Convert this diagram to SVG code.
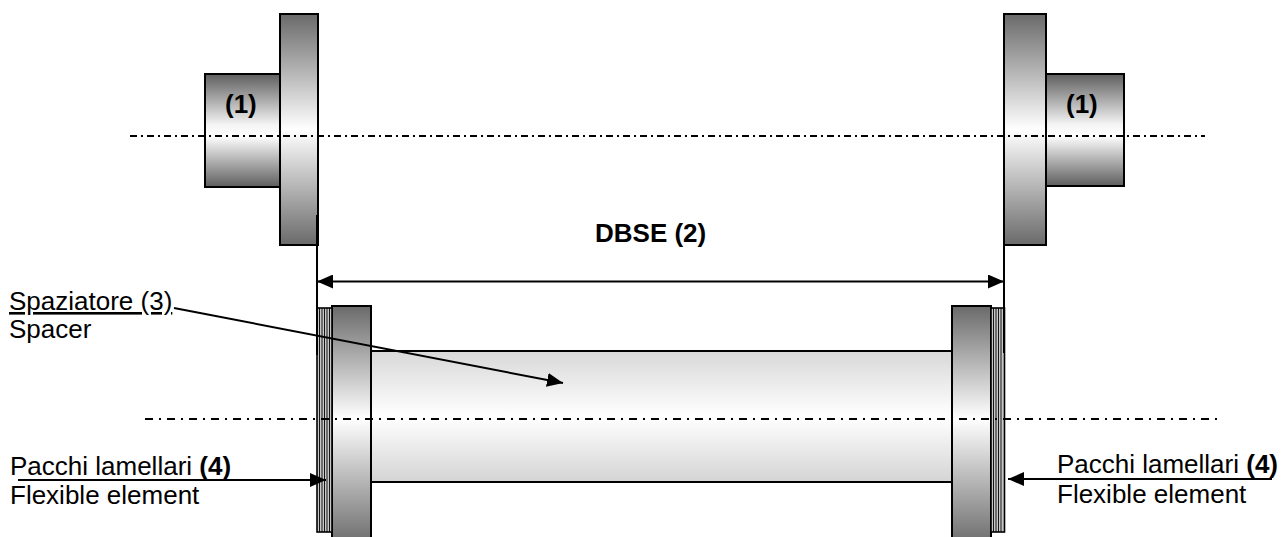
<svg xmlns="http://www.w3.org/2000/svg" width="1286" height="537" viewBox="0 0 1286 537">
<style>
.part{stroke:#000;stroke-width:2}
.pack{fill:#c8c8c8;stroke:#000;stroke-width:1.6}
.str{stroke:#000;stroke-width:0.9}
.ln{stroke:#000;stroke-width:2;fill:none}
.cl{stroke:#000;stroke-width:2;fill:none}
.t{font-family:"Liberation Sans",Arial,sans-serif;font-size:26px;fill:#000}
.b{font-weight:bold}
</style>
<defs>
<linearGradient id="gHub" x1="0" y1="0" x2="0" y2="1">
<stop offset="0" stop-color="#5e5e5e"/><stop offset="0.45" stop-color="#f4f4f4"/><stop offset="0.55" stop-color="#ffffff"/><stop offset="1" stop-color="#5e5e5e"/>
</linearGradient>
<linearGradient id="gFl" x1="0" y1="0" x2="0" y2="1">
<stop offset="0" stop-color="#6a6a6a"/><stop offset="0.5" stop-color="#ffffff"/><stop offset="1" stop-color="#6a6a6a"/>
</linearGradient>
<linearGradient id="gTube" x1="0" y1="0" x2="0" y2="1">
<stop offset="0" stop-color="#d8d8d8"/><stop offset="0.5" stop-color="#ffffff"/><stop offset="1" stop-color="#d4d4d4"/>
</linearGradient>
<linearGradient id="gSf" x1="0" y1="0" x2="0" y2="1">
<stop offset="0" stop-color="#6a6a6a"/><stop offset="0.47" stop-color="#ffffff"/><stop offset="1" stop-color="#6a6a6a"/>
</linearGradient>
<marker id="ah" viewBox="0 0 16 14" refX="16" refY="7" markerWidth="16" markerHeight="14" markerUnits="userSpaceOnUse" orient="auto-start-reverse">
<path d="M0,0 L16,7 L0,14 z" fill="#000"/>
</marker>
</defs>

<g id="hub-left">
<rect class="part" x="205" y="74" width="75" height="113" fill="url(#gHub)"/>
<rect class="part" x="280" y="14" width="38" height="231" fill="url(#gFl)"/>
<text class="t b" x="225" y="113">(1)</text>
</g>

<g id="hub-right">
<rect class="part" x="1046" y="74" width="78" height="112" fill="url(#gHub)"/>
<rect class="part" x="1004" y="14" width="42" height="231" fill="url(#gFl)"/>
<text class="t b" x="1066" y="113">(1)</text>
</g>

<g id="spacer">
<rect class="part" x="371" y="351" width="581" height="131" fill="url(#gTube)"/>
<rect class="part" x="332" y="306" width="39" height="240" fill="url(#gSf)"/>
<rect class="part" x="952" y="306" width="39" height="240" fill="url(#gSf)"/>
</g>

<g id="pack-left">
<rect class="pack" x="317" y="308" width="15" height="224"/>
<line class="str" x1="319.5" y1="308" x2="319.5" y2="532"/>
<line class="str" x1="322" y1="308" x2="322" y2="532"/>
<line class="str" x1="324.5" y1="308" x2="324.5" y2="532"/>
<line class="str" x1="327" y1="308" x2="327" y2="532"/>
<line class="str" x1="329.5" y1="308" x2="329.5" y2="532"/>
</g>

<g id="pack-right">
<rect class="pack" x="991" y="308" width="13.5" height="224"/>
<line class="str" x1="993.5" y1="308" x2="993.5" y2="532"/>
<line class="str" x1="996" y1="308" x2="996" y2="532"/>
<line class="str" x1="998.5" y1="308" x2="998.5" y2="532"/>
<line class="str" x1="1001" y1="308" x2="1001" y2="532"/>
</g>

<g id="centerlines">
<line class="cl" x1="130" y1="136" x2="1205" y2="136" stroke-dasharray="7 4 2 4"/>
<line class="cl" x1="145" y1="419" x2="1218" y2="419" stroke-dasharray="8 6 2 6"/>
</g>

<g id="connectors">
<line class="ln" x1="317" y1="215" x2="317" y2="355"/>
<line class="ln" x1="1004" y1="215" x2="1004" y2="353"/>
<line class="ln" x1="317" y1="281.5" x2="1004" y2="281.5" marker-start="url(#ah)" marker-end="url(#ah)"/>
<line class="ln" x1="174" y1="308" x2="563" y2="383" marker-end="url(#ah)"/>
<line class="ln" x1="18" y1="480" x2="326" y2="480" marker-end="url(#ah)"/>
<line class="ln" x1="1272" y1="479" x2="1008" y2="479" marker-end="url(#ah)"/>
</g>

<g id="labels">
<text class="t b" x="595" y="242">DBSE (2)</text>
<text class="t" x="9" y="310" text-decoration="underline">Spaziatore (3)</text>
<text class="t" x="9" y="338">Spacer</text>
<text class="t" x="10" y="475">Pacchi lamellari <tspan class="b">(4)</tspan></text>
<text class="t" x="10" y="504">Flexible element</text>
<text class="t" x="1278" y="473" text-anchor="end">Pacchi lamellari <tspan class="b">(4)</tspan></text>
<text class="t" x="1057" y="503">Flexible element</text>
</g>
</svg>
